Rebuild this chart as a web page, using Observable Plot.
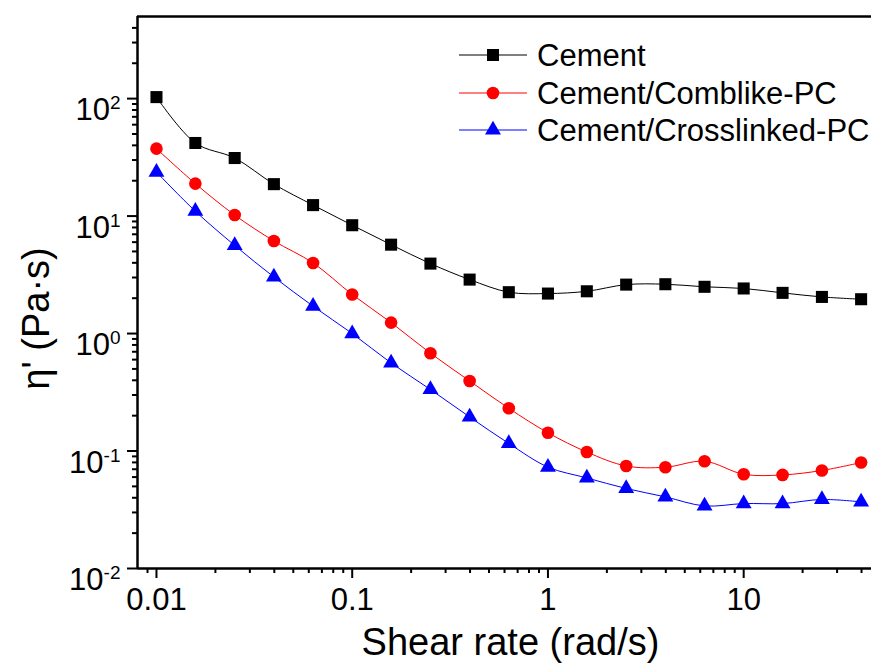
<!DOCTYPE html>
<html><head><meta charset="utf-8">
<script src="https://cdn.jsdelivr.net/npm/d3@7"></script>
<script src="https://cdn.jsdelivr.net/npm/@observablehq/plot@0.6"></script>
<style>
body{margin:0;background:#fff;}
#wrap{position:relative;width:871px;height:671px;overflow:hidden;background:#fff;}
#legend{position:absolute;left:0;top:0;}
</style></head><body><div id="wrap"></div>
<script>
// ---- data ----
const shearRate = [0.01,0.0158,0.0251,0.0398,0.0631,0.1,0.158,0.251,0.398,0.631,1,1.58,2.51,3.98,6.31,10,15.8,25.1,39.8];
const cement = [103,41.9,31.2,18.7,12.4,8.36,5.71,3.94,2.88,2.25,2.19,2.29,2.61,2.63,2.50,2.42,2.22,2.05,1.96];
const comblike = [37.5,18.9,10.2,6.14,3.99,2.15,1.24,0.68,0.395,0.231,0.143,0.098,0.0746,0.0728,0.0818,0.0634,0.0626,0.0683,0.0798];
const crosslinked = [23.7,11.0,5.63,3.03,1.71,1.0,0.562,0.334,0.195,0.116,0.073,0.059,0.048,0.0407,0.0341,0.0357,0.0357,0.0387,0.0369];
const seriesNames = ["Cement","Cement/Comblike-PC","Cement/Crosslinked-PC"];
const seriesColors = ["#000000","#ff0000","#0000ff"];
const seriesSymbols = ["square","circle","triangle"];
const xMajor = [0.01,0.1,1,10];
const xTickLabels = ["0.01","0.1","1","10"];
const yMajor = [0.01,0.1,1,10,100];
const yExponents = ["-2","-1","0","1","2"];
const xTitle = "Shear rate (rad/s)";
const yTitle = "\u03B7' (Pa\u00B7s)";

// minor ticks (2..9 per decade) inside the domains
const xDomain = [0.008, 50], yDomain = [0.01, 500];
const minor = (lo, hi) => {
  const out = [];
  for (let e = -3; e <= 3; e++) for (let m = 2; m <= 9; m++) {
    const v = m * Math.pow(10, e);
    if (v > lo * 1.0001 && v < hi * 0.9999) out.push(+v.toPrecision(3));
  }
  return out;
};
const xMinor = minor(xDomain[0], xDomain[1]);
const yMinor = minor(yDomain[0], yDomain[1]);

const allSeries = [cement, comblike, crosslinked];
const rows = allSeries.flatMap((vals, s) => vals.map((v, i) => ({x: shearRate[i], y: v, series: seriesNames[s]})));
const sizes = {square: 6.8, circle: 6.3, triangle: 5.9};

const font = "'Liberation Sans', Arial, sans-serif";
const chart = Plot.plot({
  width: 871, height: 671,
  marginTop: 16, marginBottom: 103, marginLeft: 137, marginRight: 0,
  x: {type: "log", domain: xDomain, range: [137, 880]},
  y: {type: "log", domain: yDomain},
  color: {domain: seriesNames, range: seriesColors},
  style: {fontFamily: font, background: "#fff", overflow: "hidden", color: "#000"},
  marks: [
    Plot.axisX(xMinor, {tickSize: 5, strokeWidth: 2, tickFormat: () => "", label: null}),
    Plot.axisX(xMajor, {tickSize: 10, strokeWidth: 2, tickPadding: 9, fontSize: 31,
      tickFormat: d => xTickLabels[xMajor.indexOf(d)], label: null}),
    Plot.axisY(yMinor, {tickSize: 5, strokeWidth: 2, tickFormat: () => "", label: null}),
    Plot.axisY(yMajor, {tickSize: 10, strokeWidth: 2, tickPadding: 7, fontSize: 30,
      tickFormat: d => "10^" + yExponents[yMajor.indexOf(d)], label: null}),
    Plot.ruleX([xDomain[0]], {strokeWidth: 2.5}),
    Plot.ruleY([yDomain[0]], {strokeWidth: 2.5}),
    Plot.ruleY([yDomain[1]], {strokeWidth: 2.5}),
    Plot.line(rows, {x: "x", y: "y", z: "series", stroke: "series", strokeWidth: 1, curve: "catmull-rom"}),
    ...seriesNames.map((name, s) => Plot.dot(rows.filter(d => d.series === name),
      {x: "x", y: "y", fill: seriesColors[s], stroke: "none", symbol: seriesSymbols[s], r: sizes[seriesSymbols[s]]})),
    Plot.text([xTitle], {frameAnchor: "bottom", dx: 6, dy: 86, fontSize: 38}),
    Plot.text([yTitle], {frameAnchor: "left", textAnchor: "middle", rotate: -90, dx: -101, dy: 26, fontSize: 38})
  ]
});

// superscript exponents on y tick labels
d3.select(chart).selectAll("text").each(function() {
  const t = this.textContent;
  if (t.startsWith("10^")) {
    const exp = t.slice(3);
    const sel = d3.select(this);
    sel.text("").attr("font-size", 31).style("font-size", "31px").attr("dy", null);
    sel.append("tspan").attr("dy", "0.38em").style("font-size", "31px").text("10");
    sel.append("tspan").attr("dy", "-11").style("font-size", "19px").text(exp);
  }
});

const wrap = document.getElementById("wrap");
wrap.appendChild(chart);

// legend overlay
const leg = d3.select(wrap).append("svg").attr("id", "legend").attr("width", 871).attr("height", 671);
const rowY = [55, 93, 130];
seriesNames.forEach((name, s) => {
  const g = leg.append("g");
  g.append("line").attr("x1", 459).attr("x2", 527).attr("y1", rowY[s]).attr("y2", rowY[s])
    .attr("stroke", seriesColors[s]).attr("stroke-width", 1);
  const sym = {square: d3.symbolSquare, circle: d3.symbolCircle, triangle: d3.symbolTriangle}[seriesSymbols[s]];
  const r = sizes[seriesSymbols[s]];
  g.append("path").attr("d", d3.symbol(sym, r * r * Math.PI)())
    .attr("transform", `translate(493,${rowY[s]})`).attr("fill", seriesColors[s]);
  g.append("text").attr("x", 537).attr("y", rowY[s] + 11).attr("font-family", font)
    .attr("font-size", 31).attr("fill", "#000").text(name);
});
</script></body></html>
